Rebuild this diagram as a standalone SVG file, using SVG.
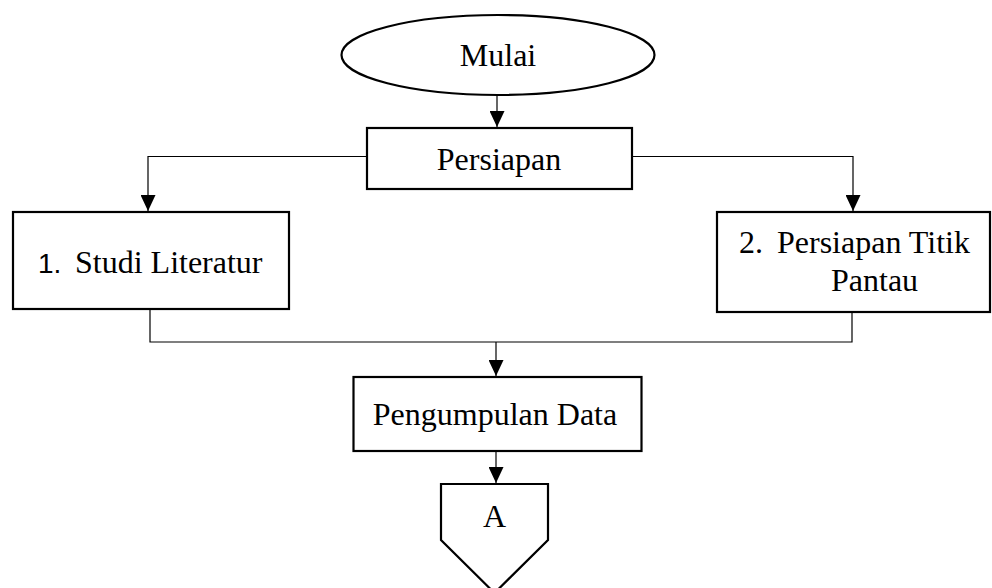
<svg xmlns="http://www.w3.org/2000/svg" width="992" height="588" viewBox="0 0 992 588">
<style>
.node{fill:#fff;stroke:#000;stroke-width:2.2}
.lbl{font-family:"Liberation Serif","Times New Roman",serif;font-size:32px;fill:#000}
.conn{fill:none;stroke:#000;stroke-width:1.2}
</style>
<defs>
<marker id="arr" markerWidth="16" markerHeight="15" refX="16" refY="7.5" orient="auto" markerUnits="userSpaceOnUse" viewBox="0 0 16 15">
<path d="M0,0 L16,7.5 L0,15 Z" fill="#000"/>
</marker>
</defs>
<rect width="992" height="588" fill="#fff"/>
<g id="connectors">
<line class="conn" x1="497" y1="95" x2="497" y2="127" marker-end="url(#arr)"/>
<polyline class="conn" points="367,156.5 148,156.5 148,211" marker-end="url(#arr)"/>
<polyline class="conn" points="632,156.5 853,156.5 853,211" marker-end="url(#arr)"/>
<polyline class="conn" points="150,309 150,342 852,342 852,312"/>
<line class="conn" x1="496" y1="342" x2="496" y2="376" marker-end="url(#arr)"/>
<line class="conn" x1="496" y1="451" x2="496" y2="483" marker-end="url(#arr)"/>
</g>
<g id="mulai">
<ellipse class="node" cx="498" cy="55" rx="156.5" ry="40"/>
<text class="lbl" x="498" y="66" text-anchor="middle">Mulai</text>
</g>
<g id="persiapan">
<rect class="node" x="367" y="128" width="265" height="61"/>
<text class="lbl" x="499" y="170" text-anchor="middle">Persiapan</text>
</g>
<g id="studi">
<rect class="node" x="13" y="212" width="276" height="97"/>
<text class="lbl" x="38" y="273"><tspan font-family="Liberation Sans, Arial, sans-serif" font-size="28">1.</tspan><tspan x="75">Studi Literatur</tspan></text>
</g>
<g id="titik">
<rect class="node" x="717" y="212" width="273" height="100"/>
<text class="lbl" x="739" y="253">2.<tspan x="777">Persiapan Titik</tspan></text>
<text class="lbl" x="831" y="291">Pantau</text>
</g>
<g id="pengumpulan">
<rect class="node" x="353.5" y="377" width="288" height="74"/>
<text class="lbl" x="495" y="425" text-anchor="middle">Pengumpulan Data</text>
</g>
<g id="a">
<polygon class="node" points="441,484 548,484 548,540 494.5,593 441,540"/>
<text class="lbl" x="494.5" y="527" text-anchor="middle">A</text>
</g>
</svg>
